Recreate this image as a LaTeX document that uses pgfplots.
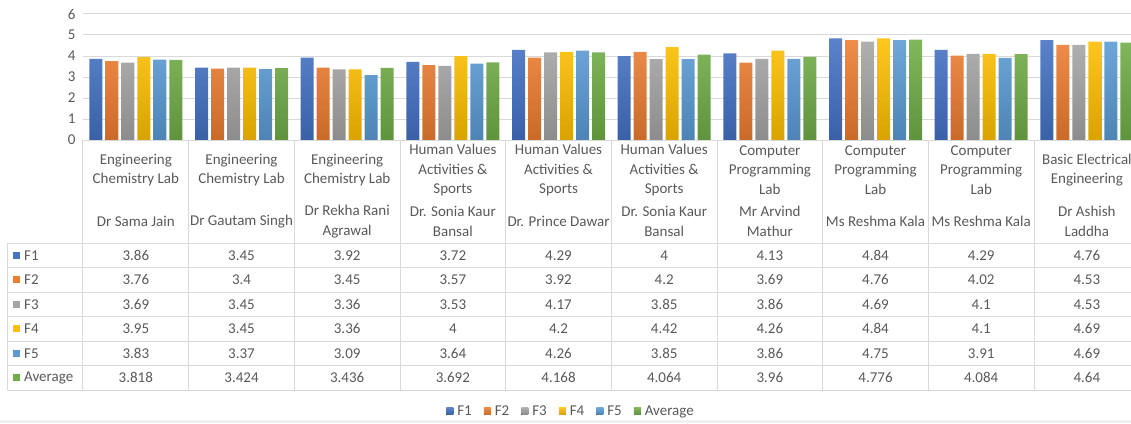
\documentclass[border=0pt]{standalone}
\usepackage{fontspec}
\setmainfont{Carlito}
\usepackage{pgfplots}
\usepackage{pgfplotstable}
\pgfplotsset{compat=1.18}
\definecolor{txt}{HTML}{595959}
\definecolor{gridc}{HTML}{D9D9D9}
\definecolor{c1}{HTML}{4472C4}
\definecolor{c2}{HTML}{ED7D31}
\definecolor{c3}{HTML}{A5A5A5}
\definecolor{c4}{HTML}{FFC000}
\definecolor{c5}{HTML}{5B9BD5}
\definecolor{c6}{HTML}{70AD47}
\pgfplotstableread{
x F1 F2 F3 F4 F5 Avg
0 3.86 3.76 3.69 3.95 3.83 3.818
1 3.45 3.4 3.45 3.45 3.37 3.424
2 3.92 3.45 3.36 3.36 3.09 3.436
3 3.72 3.57 3.53 4 3.64 3.692
4 4.29 3.92 4.17 4.2 4.26 4.168
5 4 4.2 3.85 4.42 3.85 4.064
6 4.13 3.69 3.86 4.26 3.86 3.96
7 4.84 4.76 4.69 4.84 4.75 4.776
8 4.29 4.02 4.1 4.1 3.91 4.084
9 4.76 4.53 4.53 4.69 4.69 4.64
}\data
\newcommand{\fs}{\fontsize{15}{19.5}\selectfont}
\pgfplotsset{
  mybar/.style={ybar, bar width=13pt, draw=none, top color=#1!88!white, bottom color=#1!85!black},
  tabval/.style={draw=none, mark=none, forget plot, nodes near coords, point meta=explicit symbolic,
    every node near coord/.append style={anchor=center, font=\fs, text=txt, inner sep=0pt}},
}
\newcommand{\hl}[1]{\draw[gridc, line width=1pt] (axis cs:-1.2098,#1) -- (axis cs:9.4177,#1);}
\newcommand{\vl}[1]{\draw[gridc, line width=1pt] (axis cs:#1,0) -- (axis cs:#1,-11.9048);}
\newcommand{\rl}[3]{%
  \fill[#2] ([xshift=-70pt,yshift=-3.5pt]axis cs:-0.5,#1) rectangle ([xshift=-63pt,yshift=3.5pt]axis cs:-0.5,#1);
  \node[anchor=west, inner sep=0pt, font=\fs, text=txt] at ([xshift=-59pt]axis cs:-0.5,#1) {#3};}
\begin{document}
\begin{tikzpicture}
\begin{axis}[name=ax,
  x=105.67pt, y=21pt,
  xmin=-0.5, xmax=9.4177, ymin=0, ymax=6,
  clip=false,
  axis line style={draw=none},
  tick style={draw=none},
  xtick=\empty,
  ytick={0,...,6},
  ymajorgrids, grid style={gridc, line width=1pt},
  yticklabel style={font=\fs, text=txt, xshift=-4pt},
  /pgf/number format/assume math mode=true,
  legend columns=6,
  legend style={at={(0.4647,-2.151)}, anchor=center, draw=none, font=\fs, text=txt,
    nodes={inner sep=0pt},
    /tikz/every odd column/.append style={column sep=4pt},
    /tikz/every even column/.append style={column sep=12pt}, inner sep=0pt},
  legend image code/.code={\fill[#1] (0pt,-3.5pt) rectangle (7pt,3.5pt);},
]
\addplot[mybar=c1, bar shift=-40pt] table[x=x,y=F1] \data;
\addplot[mybar=c2, bar shift=-24pt] table[x=x,y=F2] \data;
\addplot[mybar=c3, bar shift=-8pt] table[x=x,y=F3] \data;
\addplot[mybar=c4, bar shift=8pt] table[x=x,y=F4] \data;
\addplot[mybar=c5, bar shift=24pt] table[x=x,y=F5] \data;
\addplot[mybar=c6, bar shift=40pt] table[x=x,y=Avg] \data;
\legend{F1,F2,F3,F4,F5,Average}
% table values
\addplot[tabval] table[x=x, y expr=-5.4881, meta=F1] \data;
\addplot[tabval] table[x=x, y expr=-6.6548, meta=F2] \data;
\addplot[tabval] table[x=x, y expr=-7.8214, meta=F3] \data;
\addplot[tabval] table[x=x, y expr=-8.9881, meta=F4] \data;
\addplot[tabval] table[x=x, y expr=-10.1548, meta=F5] \data;
\addplot[tabval] table[x=x, y expr=-11.3214, meta=Avg] \data;
% table grid
\draw[gridc, line width=1pt] (axis cs:-0.5,0) -- (axis cs:9.4177,0);
\hl{-4.9048}\hl{-6.0714}\hl{-7.2381}\hl{-8.4048}\hl{-9.5714}\hl{-10.7381}\hl{-11.9048}
\vl{-0.5}\vl{0.5}\vl{1.5}\vl{2.5}\vl{3.5}\vl{4.5}\vl{5.5}\vl{6.5}\vl{7.5}\vl{8.5}
\draw[gridc, line width=1pt] (axis cs:-1.2098,-4.9048) -- (axis cs:-1.2098,-11.9048);
% row labels
\rl{-5.4881}{c1}{F1}
\rl{-6.6548}{c2}{F2}
\rl{-7.8214}{c3}{F3}
\rl{-8.9881}{c4}{F4}
\rl{-10.1548}{c5}{F5}
\rl{-11.3214}{c6}{Average}
% category labels
\begin{scope}[every node/.style={align=center, font=\fs, text=txt, inner sep=0pt}]
\node at (axis cs:0,-1.43) {Engineering\\Chemistry Lab};
\node at (axis cs:1,-1.43) {Engineering\\Chemistry Lab};
\node at (axis cs:2,-1.43) {Engineering\\Chemistry Lab};
\node at (axis cs:3,-1.43) {Human Values\\Activities \&\\Sports};
\node at (axis cs:4,-1.43) {Human Values\\Activities \&\\Sports};
\node at (axis cs:5,-1.43) {Human Values\\Activities \&\\Sports};
\node at (axis cs:6,-1.43) {Computer\\Programming\\Lab};
\node at (axis cs:7,-1.43) {Computer\\Programming\\Lab};
\node at (axis cs:8,-1.43) {Computer\\Programming\\Lab};
\node at (axis cs:9,-1.43) {Basic Electrical\\Engineering};
\node at (axis cs:0,-3.88) {Dr Sama Jain};
\node at (axis cs:1,-3.88) {Dr Gautam Singh};
\node at (axis cs:2,-3.88) {Dr Rekha Rani\\Agrawal};
\node at (axis cs:3,-3.88) {Dr. Sonia Kaur\\Bansal};
\node at (axis cs:4,-3.88) {Dr. Prince Dawar};
\node at (axis cs:5,-3.88) {Dr. Sonia Kaur\\Bansal};
\node at (axis cs:6,-3.88) {Mr Arvind\\Mathur};
\node at (axis cs:7,-3.88) {Ms Reshma Kala};
\node at (axis cs:8,-3.88) {Ms Reshma Kala};
\node at (axis cs:9,-3.88) {Dr Ashish\\Laddha};
\end{scope}
\end{axis}
\fill[black!6] ([shift={(-83pt,-283pt)}]ax.south west) rectangle ([shift={(1048pt,-280pt)}]ax.south west);
\pgfresetboundingbox
\useasboundingbox ([shift={(-83pt,-283pt)}]ax.south west) rectangle ([shift={(1048pt,140pt)}]ax.south west);
\end{tikzpicture}
\end{document}
